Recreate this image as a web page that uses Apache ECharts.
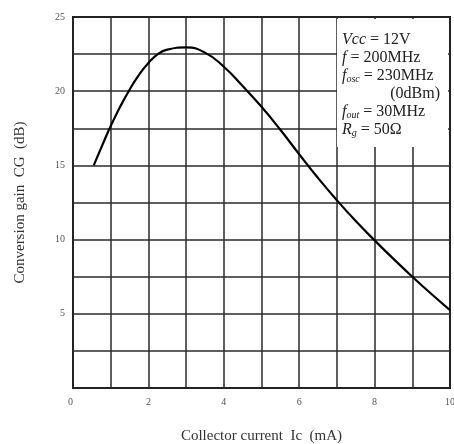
<!DOCTYPE html>
<html>
<head>
<meta charset="utf-8">
<script src="https://cdn.jsdelivr.net/npm/echarts@6/dist/echarts.min.js"></script>
<style>
  html, body { margin: 0; padding: 0; background: #fff; overflow: hidden; }
  #chart { width: 454px; height: 444px; }
</style>
</head>
<body>
<div id="chart"></div>
<script>
// collector current Ic (mA) vs conversion gain CG (dB)
const currentMA = [0.55, 0.75, 1, 1.25, 1.5, 1.75, 2, 2.25, 2.5, 3, 3.5, 4, 4.5, 5, 5.5, 6, 6.5, 7, 7.5, 8, 8.5, 9, 9.5, 10];
const gainDB = [15, 16.2, 17.65, 18.95, 20.1, 21.1, 21.9, 22.5, 22.8, 22.95, 22.6, 21.65, 20.35, 18.95, 17.4, 15.75, 14.15, 12.65, 11.25, 9.95, 8.7, 7.5, 6.35, 5.25];

const xLabelValues = [0, 2, 4, 6, 8, 10];
const yLabelValues = [5, 10, 15, 20, 25];

const conditionLines = [
    '{it|Vcc} = 12V',
    '{it|f} = 200MHz',
    '{it|f}{sub|osc} = 230MHz',
    '(0dBm)',
    '{it|f}{sub|out} = 30MHz',
    '{it|R}{sub|g} = 50Ω',
];

const serif = '"Liberation Serif", "DejaVu Serif", serif';
const gridColor = '#2a2a2a';

const chart = echarts.init(document.getElementById('chart'));

const textStyleRich = {
    it: {fontStyle: 'italic', fontFamily: serif, fontSize: 16, fill: '#222'},
    sub: {fontStyle: 'italic', fontFamily: serif, fontSize: 10, fill: '#222', verticalAlign: 'bottom', padding: [7, 0, 0, 0]},
};

const option = {
    backgroundColor: '#fff',
    animation: false,
    grid: {
        left: 73, right: 4, top: 17, bottom: 56,
        outerBoundsMode: 'none',
        show: true, borderColor: '#111', borderWidth: 2,
    },
    xAxis: {
        type: 'value',
        min: 0,
        max: 10,
        interval: 1,
        name: 'Collector current  Ic  (mA)',
        nameLocation: 'middle',
        nameGap: 41,
        nameTextStyle: {fontFamily: serif, fontSize: 15, color: '#333'},
        axisLine: {show: false},
        axisTick: {show: false},
        axisLabel: {
            fontFamily: serif,
            fontSize: 10,
            color: '#555',
            margin: 9,
            alignMinLabel: 'right',
            formatter: (v) => xLabelValues.includes(v) ? String(v) : '',
        },
        splitLine: {lineStyle: {color: gridColor, width: 1.5}},
    },
    yAxis: {
        type: 'value',
        min: 0,
        max: 25,
        interval: 2.5,
        name: 'Conversion gain  CG  (dB)',
        nameLocation: 'middle',
        nameGap: 45,
        nameRotate: 90,
        nameTextStyle: {fontFamily: serif, fontSize: 15, color: '#333'},
        axisLine: {show: false},
        axisTick: {show: false},
        axisLabel: {
            fontFamily: serif,
            fontSize: 10,
            color: '#555',
            margin: 8,
            formatter: (v) => yLabelValues.includes(v) ? String(v) : '',
        },
        splitLine: {lineStyle: {color: gridColor, width: 1.5}},
    },
    series: [
        {
            type: 'line',
            smooth: true,
            showSymbol: false,
            data: currentMA.map((x, i) => [x, gainDB[i]]),
            lineStyle: {color: '#000', width: 2.2},
            z: 5,
        },
    ],
    graphic: [
        {
            type: 'rect',
            shape: {x: 337, y: 19, width: 111, height: 128},
            style: {fill: '#fff'},
            z: 10,
        },
        ...conditionLines.map((line, i) => ({
            type: 'text',
            x: i === 3 ? 440 : 342,
            y: 40 + i * 18,
            z: 11,
            style: {
                text: line,
                fontFamily: serif,
                fontSize: 16,
                fill: '#222',
                align: i === 3 ? 'right' : 'left',
                verticalAlign: 'middle',
                rich: textStyleRich,
            },
        })),
    ],
};

chart.setOption(option);
</script>
</body>
</html>
